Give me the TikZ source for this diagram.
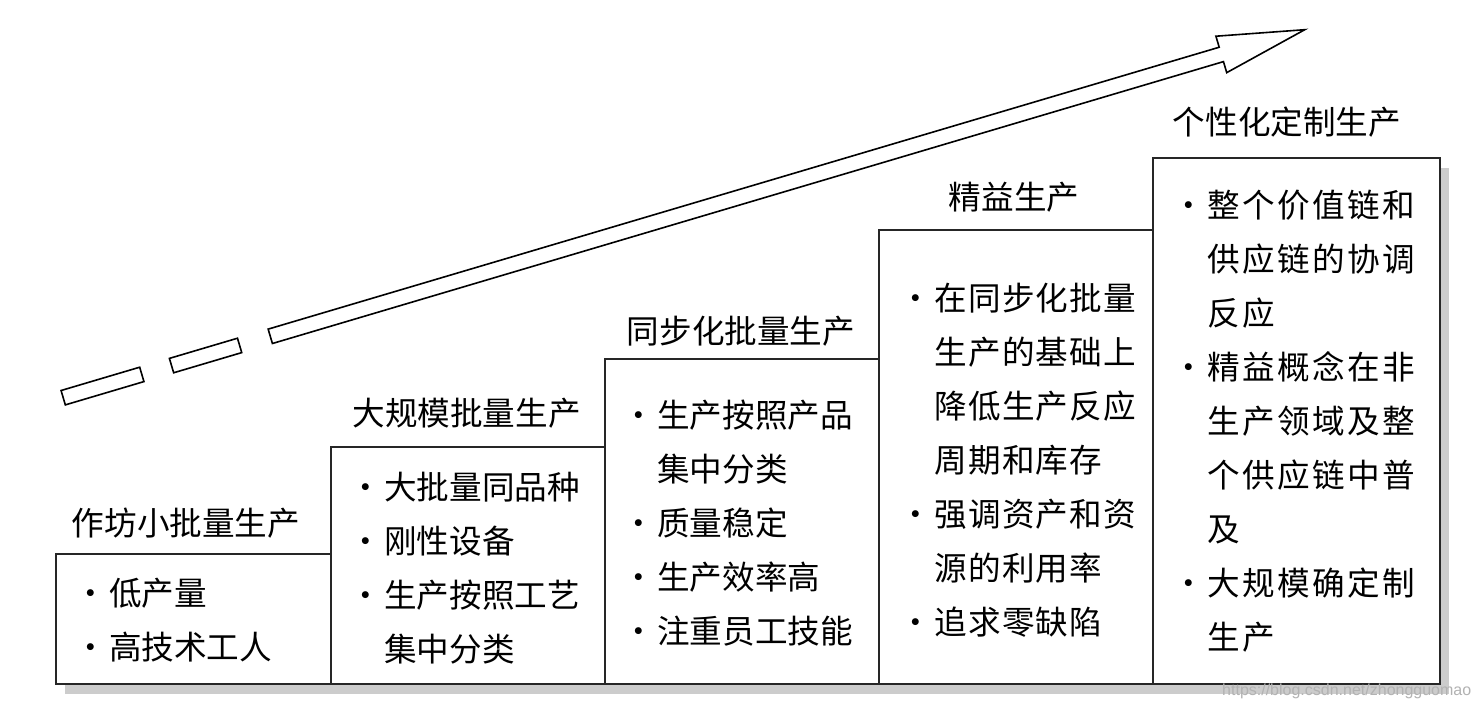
\documentclass[tikz,border=0pt]{standalone}
\usepackage{fontspec}
\setmainfont{Noto Sans CJK SC}
\newfontfamily\wmfont{Liberation Sans}
\newcommand\bul{\makebox[36pt][c]{·}}
\newcommand\ind{\hspace*{36pt}}
\tikzset{
  boxst/.style={draw=black!85, line width=1.6pt, fill=white, anchor=north west, inner sep=0pt, rectangle},
  shadowst/.style={fill=black!20, draw=none, anchor=north west, inner sep=0pt, rectangle},
  ttl/.style={anchor=base, inner sep=0pt, font=\fontsize{32.6}{40}\selectfont},
  bodyst/.style={anchor=base west, inner sep=0pt, font=\fontsize{32.6}{54}\selectfont},
  seg/.style={draw=black, line width=1.6pt, fill=white, line join=miter},
}
\begin{document}
\begin{tikzpicture}[x=1pt,y=-1pt]
\fill[white] (0,0) rectangle (1480,711);
\useasboundingbox (0,0) rectangle (1480,711);

% shadows
\node[shadowst, minimum width=275pt, minimum height=130pt] (s1) at (65,564) {};
\node[shadowst, minimum width=274pt, minimum height=237pt] (s2) at (340,457) {};
\node[shadowst, minimum width=274pt, minimum height=325pt] (s3) at (614,369) {};
\node[shadowst, minimum width=274pt, minimum height=454pt] (s4) at (888,240) {};
\node[shadowst, minimum width=287pt, minimum height=526pt] (s5) at (1162,168) {};

% boxes
\node[boxst, minimum width=275pt, minimum height=130pt] (b1) at (55,553) {};
\node[boxst, minimum width=274pt, minimum height=237pt] (b2) at (330,446) {};
\node[boxst, minimum width=274pt, minimum height=325pt] (b3) at (604,358) {};
\node[boxst, minimum width=274pt, minimum height=454pt] (b4) at (878,229) {};
\node[boxst, minimum width=287pt, minimum height=526pt] (b5) at (1152,157) {};

% titles
\node[ttl] (t1) at (186,535) {作坊小批量生产};
\node[ttl] (t2) at (466.5,425) {大规模批量生产};
\node[ttl] (t3) at (741,343) {同步化批量生产};
\node[ttl] (t4) at (1014,210) {精益生产};
\node[ttl] (t5) at (1287,135) {个性化定制生产};

% body texts
\node[bodyst] (x1) at (73,605) {\parbox[t]{300pt}{\bul 低产量\\\bul 高技术工人}};
\node[bodyst] (x2) at (348,499) {\parbox[t]{300pt}{\bul 大批量同品种\\\bul 刚性设备\\\bul 生产按照工艺\\\ind 集中分类}};
\node[bodyst] (x3) at (621,427) {\parbox[t]{300pt}{\bul 生产按照产品\\\ind 集中分类\\\bul 质量稳定\\\bul 生产效率高\\\bul 注重员工技能}};
\node[bodyst] (x4) at (898,310) {\parbox[t]{300pt}{\addfontfeature{LetterSpace=4}\bul 在同步化批量\\\ind 生产的基础上\\\ind 降低生产反应\\\ind 周期和库存\\\bul 强调资产和资\\\ind 源的利用率\\\bul 追求零缺陷}};
\node[bodyst] (x5) at (1171,218) {\parbox[t]{300pt}{\addfontfeature{LetterSpace=7.7}\bul 整个价值链和\\\ind 供应链的协调\\\ind 反应\\\bul 精益概念在非\\\ind 生产领域及整\\\ind 个供应链中普\\\ind 及\\\bul 大规模确定制\\\ind 生产}};

% arrow
\begin{scope}[shift={(63.2,397.7)}, rotate=16.51]
  \draw[seg] (0,-7.5) rectangle (82,7.5);
  \draw[seg] (113,-7.5) rectangle (184,7.5);
  \draw[seg] (216,-7.5) -- (1208,-7.5) -- (1208,-19) -- (1295,0) -- (1208,19) -- (1208,7.5) -- (216,7.5) -- cycle;
\end{scope}

% watermark
\node[anchor=base west, inner sep=0pt, text=black!30, font=\wmfont\fontsize{16}{18}\selectfont] (wm) at (1222,695) {https://blog.csdn.net/zhongguomao};
\end{tikzpicture}
\end{document}
